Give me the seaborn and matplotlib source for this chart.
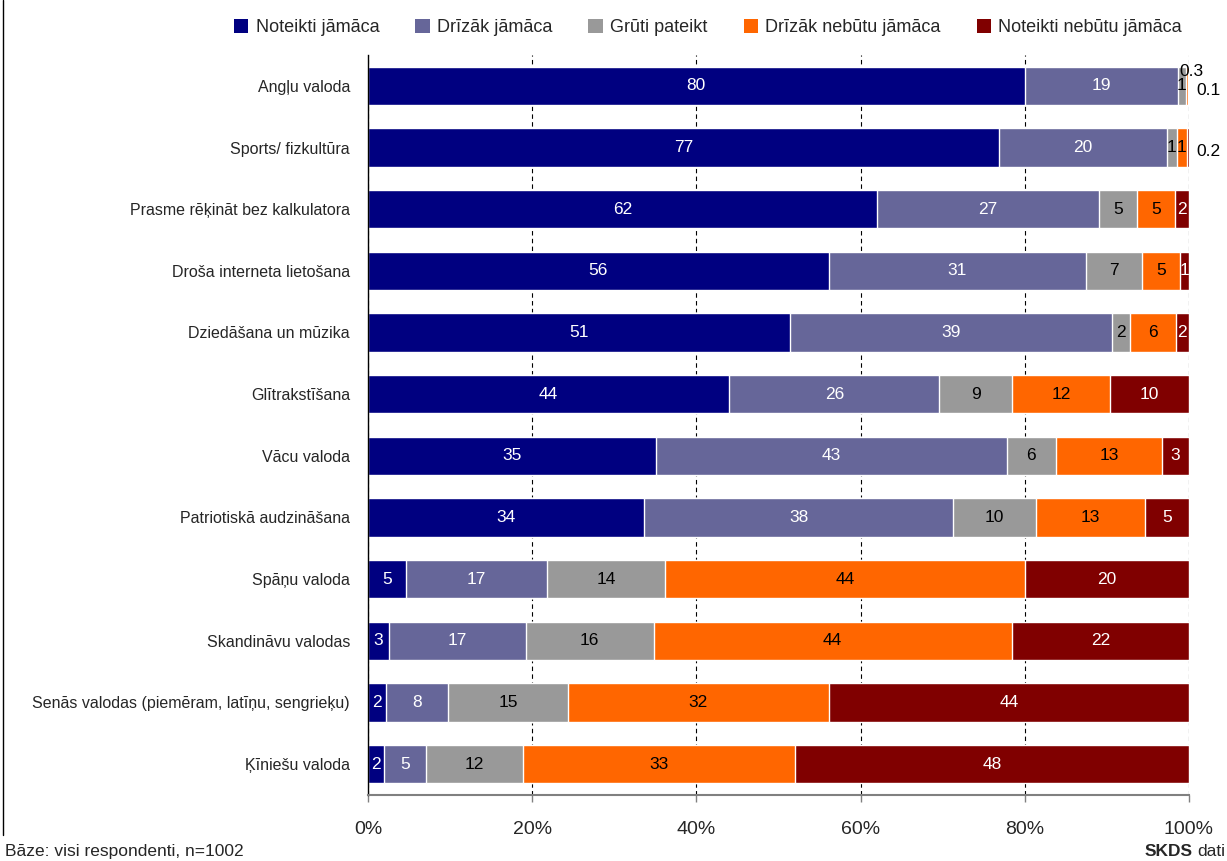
import numpy as np
import pandas as pd
import matplotlib.pyplot as plt
import seaborn as sns
from matplotlib.patches import Patch
from matplotlib.lines import Line2D

# categories (top to bottom)
subjects = ["Angļu valoda", "Sports/ fizkultūra", "Prasme rēķināt bez kalkulatora",
            "Droša interneta lietošana", "Dziedāšana un mūzika", "Glītrakstīšana",
            "Vācu valoda", "Patriotiskā audzināšana", "Spāņu valoda",
            "Skandināvu valodas", "Senās valodas (piemēram, latīņu, sengrieķu)",
            "Ķīniešu valoda"]

answers = ["Noteikti jāmāca", "Drīzāk jāmāca", "Grūti pateikt",
           "Drīzāk nebūtu jāmāca", "Noteikti nebūtu jāmāca"]

# shares in %
noteikti_jamaca = [80.0, 76.9, 62.0, 56.1, 51.4, 44.0, 35.1, 33.6, 4.6, 2.6, 2.2, 1.9]
drizak_jamaca = [18.7, 20.4, 27.0, 31.3, 39.2, 25.6, 42.7, 37.7, 17.2, 16.6, 7.6, 5.2]
gruti_pateikt = [0.9, 1.2, 4.7, 6.9, 2.2, 8.8, 6.0, 10.1, 14.4, 15.6, 14.6, 11.8]
drizak_nebutu = [0.3, 1.3, 4.6, 4.6, 5.6, 12.0, 12.9, 13.2, 43.8, 43.6, 31.7, 33.1]
noteikti_nebutu = [0.1, 0.2, 1.7, 1.1, 1.6, 9.6, 3.3, 5.4, 20.0, 21.6, 43.9, 48.0]

colors = ["#000080", "#666699", "#999999", "#FF6600", "#800000"]
text_colors = ["white", "white", "black", "black", "white"]

df = pd.DataFrame({"subject": subjects,
                   answers[0]: noteikti_jamaca,
                   answers[1]: drizak_jamaca,
                   answers[2]: gruti_pateikt,
                   answers[3]: drizak_nebutu,
                   answers[4]: noteikti_nebutu})

vals = df[answers].to_numpy()
cum = vals.cumsum(axis=1)

sns.set_style("white")
plt.rcParams["font.family"] = ["Liberation Sans", "DejaVu Sans"]

fs_lab = 12.5
fs_y = 11.5
fs_x = 14
fs_leg = 13
fs_foot = 12.5

fig = plt.figure(figsize=(12.27, 8.61), dpi=100)
ax = fig.add_axes([0.2999, 0.0767, 0.6691, 0.8594])

# stacked bars: draw cumulative totals, widest first
for i in reversed(range(len(answers))):
    sns.barplot(x=cum[:, i], y=df["subject"], order=subjects, color=colors[i],
                saturation=1, width=0.62, orient="h", ax=ax, errorbar=None)

# value labels
for r in range(len(subjects)):
    for i in range(len(answers)):
        v = vals[r, i]
        c = cum[r, i] - v / 2
        if v < 0.5:
            lab = f"{v:.1f}"
            if i == len(answers) - 1:
                ax.annotate(lab, (100, r), xytext=(5, -3), textcoords="offset points",
                            ha="left", va="center", fontsize=fs_lab, color="black")
            else:
                ax.annotate(lab, (c, r), xytext=(3, 10), textcoords="offset points",
                            ha="center", va="center", fontsize=fs_lab, color="black")
        else:
            ax.text(c, r, f"{v:.0f}", ha="center", va="center", fontsize=fs_lab,
                    color=text_colors[i])

ax.set_xlim(0, 100)
ax.set_ylim(len(subjects) - 0.5, -0.5)
ax.set_xticks(range(0, 101, 20))
ax.set_xticklabels([f"{t}%" for t in range(0, 101, 20)])
ax.set_xlabel("")
ax.set_ylabel("")

ax.set_yticks(np.arange(-0.5, len(subjects)), minor=True)
ax.tick_params(axis="y", which="major", length=0, pad=13, labelsize=fs_y)
ax.tick_params(axis="y", which="minor", length=5, width=1, color="black", direction="out")
ax.tick_params(axis="x", which="major", length=5, width=1, color="#808080",
               direction="out", pad=14, labelsize=fs_x, bottom=True)

ax.xaxis.grid(True, linestyle=(0, (4, 3)), color="black", linewidth=0.8)
ax.yaxis.grid(False)
ax.set_axisbelow(True)

for s in ["top", "right"]:
    ax.spines[s].set_visible(False)
ax.spines["left"].set_color("black")
ax.spines["left"].set_linewidth(1)
ax.spines["bottom"].set_color("#808080")
ax.spines["bottom"].set_linewidth(1.5)

handles = [Patch(facecolor=c, edgecolor="none") for c in colors]
fig.legend(handles, answers, loc="center", bbox_to_anchor=(0.577, 0.968), ncol=5,
           frameon=False, fontsize=fs_leg, handlelength=0.8, handleheight=0.8,
           handletextpad=0.4, columnspacing=2.0)

fig.text(0.004, 0.011, "Bāze: visi respondenti, n=1002", ha="left", va="center",
         fontsize=fs_foot)
fig.text(1193 / 1227, 0.011, "SKDS", ha="right", va="center", fontsize=fs_foot,
         fontweight="bold")
fig.text(1197 / 1227, 0.011, "dati", ha="left", va="center", fontsize=fs_foot)

fig.add_artist(Line2D([0.0025, 0.0025], [0.03, 1.0], transform=fig.transFigure,
                      color="black", linewidth=1))

fig.savefig("out.png", dpi=100)
